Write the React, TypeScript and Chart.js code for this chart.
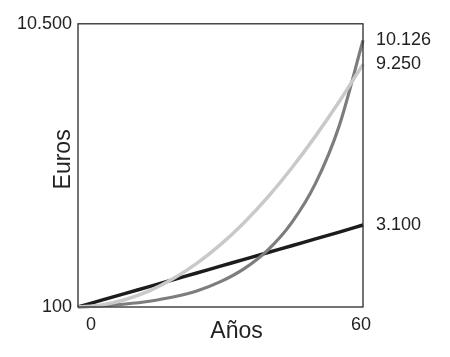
import React, { useEffect, useRef } from "react";
import { Chart, registerables } from "chart.js";

Chart.register(...registerables);

const years = [0, 5, 10, 15, 20, 25, 30, 35, 40, 45, 50, 55, 60];
const simpleInterest = [100, 350, 600, 850, 1100, 1350, 1600, 1850, 2100, 2350, 2600, 2850, 3110];
const growingSeries = [100, 175, 375, 695, 1135, 1700, 2390, 3205, 4145, 5205, 6375, 7645, 9010];
const compoundInterest = [100, 145, 210, 312, 465, 690, 1030, 1510, 2200, 3200, 4640, 6760, 9890];

const xTickValues = [0, 60];
const xTickLabels = ["0", "60"];
const yTickValues = [100, 10500];
const yTickLabels = ["100", "10.500"];
const endTickLabels = ["10.126", "9.250", "3.100"];
const xTitle = "Años";
const yTitle = "Euros";

const FONT = "'Liberation Sans', Arial, Helvetica, sans-serif";
const TEXT = "#222222";

const framePlugin = {
  id: "frame",
  afterDraw(chart: any) {
    const { ctx, chartArea } = chart;
    ctx.save();
    ctx.strokeStyle = "#2a2a2a";
    ctx.lineWidth = 1.3;
    ctx.strokeRect(chartArea.left, chartArea.top, chartArea.right - chartArea.left, chartArea.bottom - chartArea.top);
    // axis titles
    ctx.fillStyle = TEXT;
    ctx.font = `23px ${FONT}`;
    ctx.textAlign = "center";
    ctx.textBaseline = "alphabetic";
    ctx.fillText(xTitle, (chartArea.left + chartArea.right) / 2 + 16, chartArea.bottom + 31);
    ctx.translate(chartArea.left - 8, (chartArea.top + chartArea.bottom) / 2 - 6);
    ctx.rotate(-Math.PI / 2);
    ctx.fillText(yTitle, 0, 0);
    ctx.restore();
  },
};

export default function App() {
  const ref = useRef<HTMLCanvasElement | null>(null);

  useEffect(() => {
    document.body.style.margin = "0";
    const canvas = ref.current;
    if (!canvas) return;
    const toPts = (arr: number[]) => arr.map((v, i) => ({ x: years[i], y: v }));
    const endValues = [
      compoundInterest[compoundInterest.length - 1],
      growingSeries[growingSeries.length - 1],
      simpleInterest[simpleInterest.length - 1],
    ];
    const chart = new Chart(canvas, {
      type: "line",
      data: {
        datasets: [
          {
            label: "Creciente",
            data: toPts(growingSeries),
            borderColor: "#c9c9c9",
            borderWidth: 3.5,
            pointRadius: 0,
            cubicInterpolationMode: "monotone",
            yAxisID: "y",
          },
          {
            label: "Compuesto",
            data: toPts(compoundInterest),
            borderColor: "#7d7d7d",
            borderWidth: 3.2,
            pointRadius: 0,
            cubicInterpolationMode: "monotone",
            yAxisID: "y",
          },
          {
            label: "Simple",
            data: toPts(simpleInterest),
            borderColor: "#1c1c1c",
            borderWidth: 3.5,
            pointRadius: 0,
            cubicInterpolationMode: "monotone",
            yAxisID: "y",
          },
        ],
      },
      options: {
        animation: false,
        responsive: false,
        clip: false as any,
        layout: { padding: { top: 21, left: 0, right: 0, bottom: 0 } },
        plugins: { legend: { display: false }, tooltip: { enabled: false } },
        scales: {
          x: {
            type: "linear",
            position: "bottom",
            min: 0,
            max: 60,
            grid: { display: false, drawTicks: false },
            border: { display: false },
            afterBuildTicks: (s: any) => {
              s.ticks = xTickValues.map((v) => ({ value: v }));
            },
            afterFit: (s: any) => {
              s.height = 50;
            },
            ticks: {
              align: "inner",
              labelOffset: 8,
              padding: 7,
              color: TEXT,
              font: { family: FONT, size: 18 },
              callback: (v: any) => xTickLabels[xTickValues.indexOf(Number(v))] ?? "",
            },
          },
          y: {
            type: "linear",
            position: "left",
            min: 100,
            max: 10500,
            grid: { display: false, drawTicks: false },
            border: { display: false },
            afterBuildTicks: (s: any) => {
              s.ticks = yTickValues.map((v) => ({ value: v }));
            },
            afterFit: (s: any) => {
              s.width = 78;
            },
            ticks: {
              padding: 6,
              color: TEXT,
              font: { family: FONT, size: 18 },
              callback: (v: any) => yTickLabels[yTickValues.indexOf(Number(v))] ?? "",
            },
          },
          yEnd: {
            type: "linear",
            position: "right",
            min: 100,
            max: 10500,
            grid: { display: false, drawTicks: false },
            border: { display: false },
            afterBuildTicks: (s: any) => {
              s.ticks = endValues.map((v) => ({ value: v }));
            },
            afterFit: (s: any) => {
              s.width = 87;
            },
            ticks: {
              padding: 13,
              color: TEXT,
              font: { family: FONT, size: 18 },
              callback: (v: any) => endTickLabels[endValues.indexOf(Number(v))] ?? "",
            },
          },
        },
      },
      plugins: [framePlugin],
    } as any);
    return () => chart.destroy();
  }, []);

  return (
    <div style={{ width: 450, height: 357, background: "#ffffff" }}>
      <canvas ref={ref} width={450} height={357} style={{ display: "block" }} />
    </div>
  );
}
